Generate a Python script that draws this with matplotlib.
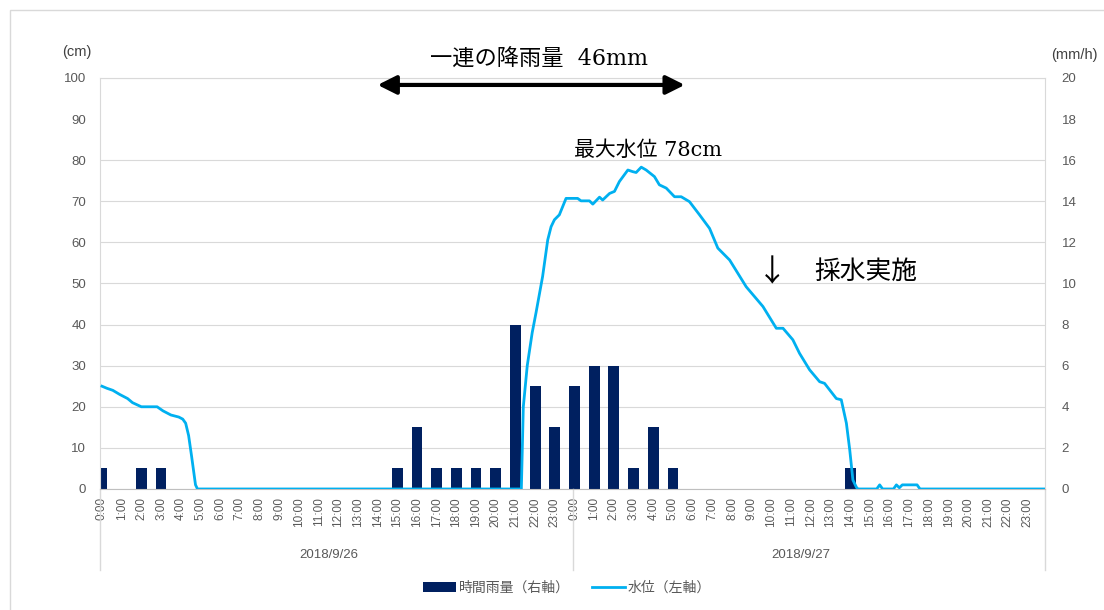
import numpy as np
import matplotlib.pyplot as plt
import matplotlib.transforms as mtransforms
from matplotlib.lines import Line2D
from matplotlib.patches import Patch, Rectangle

plt.rcParams['font.family'] = ['Liberation Sans', 'Noto Sans CJK JP']

# ==========================================================================
# Datele graficului
# ==========================================================================
days = ['2018/9/26', '2018/9/27']
hour_labels = ['{}:00'.format(h) for h in range(24)] * 2

# 時間雨量 (mm/h), 48 ore
rain_mm = [1, 0, 1, 1, 0, 0, 0, 0, 0, 0, 0, 0, 0, 0, 0, 1, 3, 1, 1, 1, 1, 8, 5, 3,
           5, 6, 6, 1, 3, 1, 0, 0, 0, 0, 0, 0, 0, 0, 1, 0, 0, 0, 0, 0, 0, 0, 0, 0]

# 水位 (cm), ore de la 9/26 0:00
wl_hours = [0.0, 0.25, 0.55, 0.9, 1.3, 1.55, 2.0, 2.8, 3.1, 3.5, 3.9, 4.1, 4.25, 4.4, 4.55, 4.75, 4.85,
            21.3, 21.4, 21.6, 21.85, 22.05, 22.38, 22.64, 22.81, 22.98, 23.23,
            23.57, 24.16, 24.33, 24.76, 24.93, 25.27, 25.43, 25.78, 26.03, 26.28,
            26.71, 26.96, 27.13, 27.39, 27.64, 28.06, 28.31, 28.66, 29.08, 29.42,
            29.84, 30.35, 30.86, 31.28, 31.88, 32.72, 33.57, 34.25, 34.59, 35.09,
            35.43, 35.94, 36.45, 36.7, 37.3, 37.55, 37.81, 37.98, 38.14, 38.32, 38.4,
            39.35, 39.5, 39.65, 40.2, 40.35, 40.5, 40.65, 41.4, 41.55, 47.9]
wl_cm = [25, 24.5, 24, 23, 22, 21, 20, 20, 19, 18, 17.5, 17, 16, 13, 8, 1, 0,
         0, 20, 30, 38, 43, 51.7, 60.6, 63.8, 65.5, 66.7,
         70.7, 70.7, 70.1, 70.1, 69.3, 71, 70.3, 71.9, 72.4, 74.8,
         77.6, 77.2, 77, 78.3, 77.6, 76, 74, 73.2, 71.1, 71.1,
         69.9, 66.7, 63.4, 58.6, 55.7, 49.2, 44.4, 39.1, 39.1, 36.3,
         33, 29, 26.1, 25.7, 22, 21.7, 16, 9.5, 2.2, 0.4, 0,
         0, 1, 0, 0, 1, 0.3, 1, 1, 0, 0]

bar_color = '#002060'
line_color = '#00B0F0'
grid_color = '#D9D9D9'
text_grey = '#595959'
serif_jp = ['DejaVu Serif', 'Noto Sans CJK JP']

fig = plt.figure(figsize=(11.04, 6.10), dpi=100)
fig.patches.append(Rectangle((10 / 1104, -0.1), 1.2, 1.1 - 10 / 610, transform=fig.transFigure,
                             fill=False, edgecolor=grid_color, lw=1))

# axa cu bare (dreapta, mm/h)
ax = fig.add_axes([0.0906, 0.1984, 0.856, 0.6738])
x_ = np.arange(len(rain_mm))
ax.bar(x_, rain_mm, width=0.55, color=bar_color, zorder=2)
ax.set_ylim(0, 20)
ax.set_yticks(np.arange(0, 21, 2))
ax.grid(axis='y', color=grid_color, lw=0.8, zorder=0)
ax.get_ygridlines()[9].set_visible(False)
ax.set_axisbelow(True)
ax.set_xlim(-0.1, 47.9)
ax.set_xticks(x_)
ax.set_xticklabels(hour_labels, rotation=90, fontsize=8.5, color=text_grey)
ax.tick_params(axis='x', length=0, pad=6)
for s in ax.spines.values():
    s.set_color(grid_color)
ax.spines['bottom'].set_color('#BFBFBF')

# axa cu linia (stanga, cm)
axl = ax.twinx()
axl.plot(wl_hours, wl_cm, color=line_color, lw=2, zorder=3)
axl.set_ylim(0, 100)
axl.set_yticks(np.arange(0, 101, 10))
axl.yaxis.tick_left()
axl.yaxis.set_label_position('left')
axl.tick_params(axis='y', length=0, pad=10, labelsize=9.5, labelcolor=text_grey)
for s in axl.spines.values():
    s.set_visible(False)

ax.yaxis.tick_right()
ax.yaxis.set_label_position('right')
ax.tick_params(axis='y', length=0, pad=12, labelsize=9.5, labelcolor=text_grey)

# separatoare si etichete pentru zile
trans = mtransforms.blended_transform_factory(ax.transData, ax.transAxes)
for xs in [-0.1, 23.9, 47.9]:
    ax.plot([xs, xs], [0, -0.197], transform=trans, color=grid_color, lw=1, clip_on=False)
for i, d in enumerate(days):
    ax.text(i * 24 + 11.5, -0.16, d, transform=trans, ha='center', va='center',
            fontsize=9.5, color=text_grey)

# unitati
fig.text(77 / 1104, 1 - 52 / 610, '(cm)', ha='center', va='center', fontsize=10.5, color='#404040')
fig.text(1074 / 1104, 1 - 55 / 610, '(mm/h)', ha='center', va='center', fontsize=10.5, color='#404040')

# adnotari
axl.annotate('', xy=(29.6, 98.3), xytext=(14.0, 98.3),
             arrowprops=dict(arrowstyle='<|-|>,head_length=0.8,head_width=0.4', lw=3,
                             color='black', shrinkA=0, shrinkB=0, mutation_scale=14),
             annotation_clip=False)
axl.text(22.2, 104.4, '一連の降雨量  46mm', ha='center', va='center', fontsize=16,
         family=serif_jp, clip_on=False)
axl.text(27.76, 82.5, '最大水位 78cm', ha='center', va='center', fontsize=15, family=serif_jp)
axl.text(34.06, 52.5, '↓', ha='center', va='center', fontsize=22,
         family=['Noto Sans CJK JP'])
axl.text(38.8, 52.8, '採水実施', ha='center', va='center', fontsize=18.5,
         family=['Noto Sans CJK JP'])

# legenda
handles = [Patch(facecolor=bar_color), Line2D([], [], color=line_color, lw=2)]
leg = fig.legend(handles, ['時間雨量（右軸）', '水位（左軸）'], loc='center',
                 bbox_to_anchor=(567 / 1104, 1 - 588 / 610), ncol=2, frameon=False,
                 fontsize=10, handlelength=2.4, columnspacing=1.6, handletextpad=0.2)
for t in leg.get_texts():
    t.set_color(text_grey)

fig.savefig('out.png', dpi=100)
